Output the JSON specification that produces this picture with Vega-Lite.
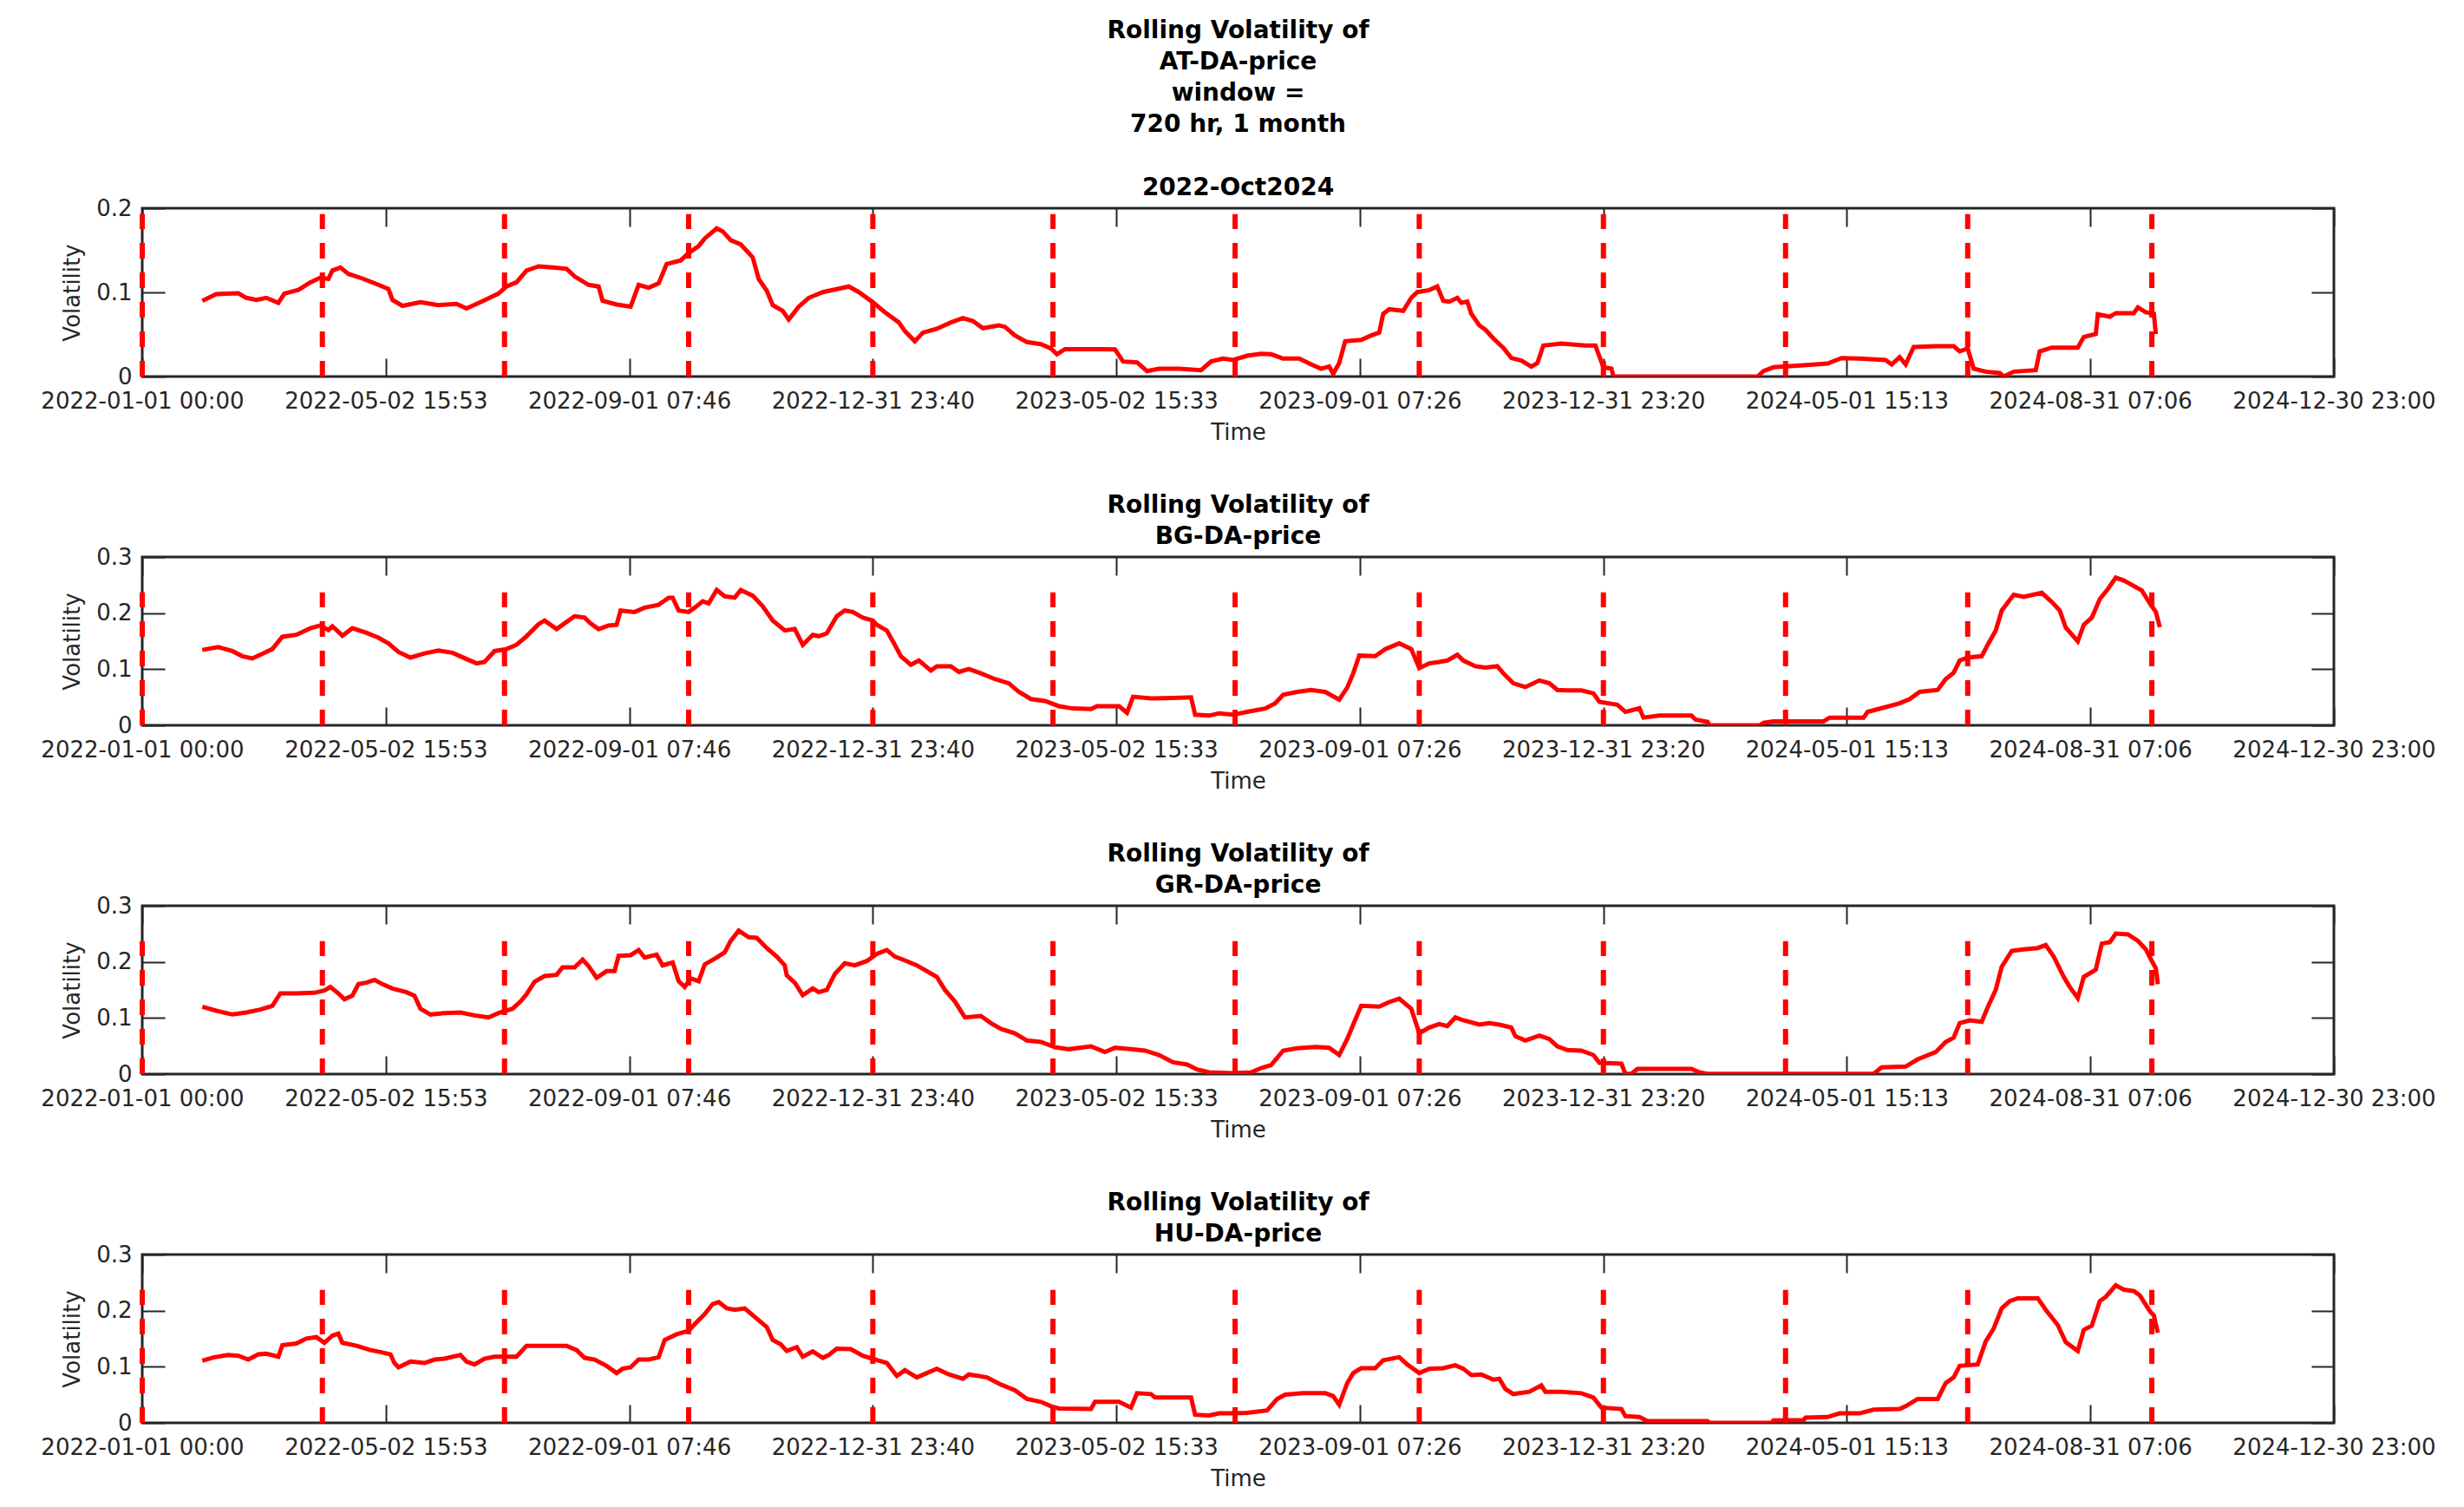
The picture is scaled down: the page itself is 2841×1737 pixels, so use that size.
{
"$schema": "https://vega.github.io/schema/vega-lite/v6.json",
"background": "#ffffff",
"padding": {"left": 45, "top": 20, "right": 5, "bottom": 5},
"datasets": {
"quarters": [{"t":"2022-01-01"},{"t":"2022-04-01"},{"t":"2022-07-01"},{"t":"2022-10-01"},{"t":"2023-01-01"},{"t":"2023-04-01"},{"t":"2023-07-01"},{"t":"2023-10-01"},{"t":"2024-01-01"},{"t":"2024-04-01"},{"t":"2024-07-01"},{"t":"2024-10-01"}],
"AT": [
{"t":"2022-01-31","v":0.090},{"t":"2022-02-07","v":0.098},{"t":"2022-02-18","v":0.099},{"t":"2022-02-22","v":0.0935},{"t":"2022-02-27","v":0.091},{"t":"2022-03-04","v":0.0935},{"t":"2022-03-10","v":0.0876},{"t":"2022-03-13","v":0.0986},{"t":"2022-03-20","v":0.103},{"t":"2022-03-26","v":0.112},{"t":"2022-03-31","v":0.1175},{"t":"2022-04-04","v":0.116},{"t":"2022-04-06","v":0.126},{"t":"2022-04-10","v":0.1295},{"t":"2022-04-14","v":0.122},{"t":"2022-04-21","v":0.1165},{"t":"2022-04-29","v":0.109},{"t":"2022-05-04","v":0.104},{"t":"2022-05-06","v":0.091},{"t":"2022-05-11","v":0.084},{"t":"2022-05-20","v":0.0883},{"t":"2022-05-29","v":0.0849},{"t":"2022-06-07","v":0.0863},{"t":"2022-06-12","v":0.081},{"t":"2022-06-19","v":0.0883},{"t":"2022-06-28","v":0.0986},{"t":"2022-07-02","v":0.107},{"t":"2022-07-07","v":0.112},{"t":"2022-07-12","v":0.126},{"t":"2022-07-18","v":0.131},{"t":"2022-07-25","v":0.1296},{"t":"2022-08-01","v":0.128},{"t":"2022-08-05","v":0.119},{"t":"2022-08-12","v":0.109},{"t":"2022-08-17","v":0.107},{"t":"2022-08-19","v":0.090},{"t":"2022-08-26","v":0.0856},{"t":"2022-09-02","v":0.083},{"t":"2022-09-06","v":0.109},{"t":"2022-09-11","v":0.1055},{"t":"2022-09-16","v":0.1107},{"t":"2022-09-20","v":0.1337},{"t":"2022-09-27","v":0.138},{"t":"2022-10-01","v":0.1467},{"t":"2022-10-06","v":0.155},{"t":"2022-10-09","v":0.164},{"t":"2022-10-15","v":0.176},{"t":"2022-10-18","v":0.1725},{"t":"2022-10-22","v":0.162},{"t":"2022-10-27","v":0.157},{"t":"2022-11-02","v":0.1416},{"t":"2022-11-05","v":0.1158},{"t":"2022-11-09","v":0.102},{"t":"2022-11-12","v":0.0849},{"t":"2022-11-17","v":0.078},{"t":"2022-11-20","v":0.0677},{"t":"2022-11-25","v":0.083},{"t":"2022-11-30","v":0.0935},{"t":"2022-12-07","v":0.1003},{"t":"2022-12-14","v":0.1038},{"t":"2022-12-20","v":0.107},{"t":"2022-12-25","v":0.1003},{"t":"2023-01-01","v":0.0883},{"t":"2023-01-08","v":0.0746},{"t":"2023-01-14","v":0.0643},{"t":"2023-01-17","v":0.054},{"t":"2023-01-22","v":0.0419},{"t":"2023-01-26","v":0.0522},{"t":"2023-02-02","v":0.0567},{"t":"2023-02-09","v":0.0643},{"t":"2023-02-15","v":0.0694},{"t":"2023-02-20","v":0.066},{"t":"2023-02-25","v":0.0574},{"t":"2023-03-05","v":0.0608},{"t":"2023-03-08","v":0.0591},{"t":"2023-03-13","v":0.0488},{"t":"2023-03-19","v":0.0409},{"t":"2023-03-26","v":0.0385},{"t":"2023-03-31","v":0.0333},{"t":"2023-04-03","v":0.0265},{"t":"2023-04-07","v":0.0326},{"t":"2023-04-18","v":0.0326},{"t":"2023-05-02","v":0.0323},{"t":"2023-05-06","v":0.0179},{"t":"2023-05-13","v":0.0168},{"t":"2023-05-18","v":0.0065},{"t":"2023-05-24","v":0.0093},{"t":"2023-06-03","v":0.0093},{"t":"2023-06-14","v":0.0076},{"t":"2023-06-19","v":0.0179},{"t":"2023-06-25","v":0.0213},{"t":"2023-06-30","v":0.0196},{"t":"2023-07-07","v":0.0247},{"t":"2023-07-14","v":0.0271},{"t":"2023-07-19","v":0.0265},{"t":"2023-07-25","v":0.0213},{"t":"2023-08-02","v":0.0213},{"t":"2023-08-08","v":0.0144},{"t":"2023-08-13","v":0.0093},{"t":"2023-08-17","v":0.012},{"t":"2023-08-19","v":0.0031},{"t":"2023-08-22","v":0.016},{"t":"2023-08-25","v":0.042},{"t":"2023-09-02","v":0.0436},{"t":"2023-09-07","v":0.0488},{"t":"2023-09-11","v":0.0522},{"t":"2023-09-13","v":0.0746},{"t":"2023-09-16","v":0.080},{"t":"2023-09-23","v":0.078},{"t":"2023-09-27","v":0.0935},{"t":"2023-09-30","v":0.1003},{"t":"2023-10-06","v":0.1027},{"t":"2023-10-10","v":0.107},{"t":"2023-10-13","v":0.090},{"t":"2023-10-16","v":0.089},{"t":"2023-10-20","v":0.0935},{"t":"2023-10-22","v":0.0876},{"t":"2023-10-25","v":0.089},{"t":"2023-10-27","v":0.0746},{"t":"2023-10-31","v":0.0608},{"t":"2023-11-03","v":0.0557},{"t":"2023-11-07","v":0.0454},{"t":"2023-11-12","v":0.034},{"t":"2023-11-16","v":0.022},{"t":"2023-11-21","v":0.0189},{"t":"2023-11-26","v":0.0117},{"t":"2023-11-29","v":0.016},{"t":"2023-12-02","v":0.0368},{"t":"2023-12-11","v":0.0392},{"t":"2023-12-23","v":0.0368},{"t":"2023-12-28","v":0.0368},{"t":"2024-01-01","v":0.011},{"t":"2024-01-05","v":0.0093},{"t":"2024-01-06","v":0.0},{"t":"2024-03-18","v":0.0},{"t":"2024-03-21","v":0.0065},{"t":"2024-03-26","v":0.011},{"t":"2024-04-10","v":0.0134},{"t":"2024-04-22","v":0.0155},{"t":"2024-04-29","v":0.022},{"t":"2024-05-08","v":0.0213},{"t":"2024-05-21","v":0.0196},{"t":"2024-05-24","v":0.0144},{"t":"2024-05-28","v":0.023},{"t":"2024-05-31","v":0.0144},{"t":"2024-06-04","v":0.0351},{"t":"2024-06-15","v":0.036},{"t":"2024-06-24","v":0.036},{"t":"2024-06-27","v":0.0299},{"t":"2024-07-01","v":0.0333},{"t":"2024-07-04","v":0.0093},{"t":"2024-07-10","v":0.0058},{"t":"2024-07-17","v":0.0041},{"t":"2024-07-19","v":0.0},{"t":"2024-07-24","v":0.0058},{"t":"2024-08-04","v":0.0076},{"t":"2024-08-06","v":0.0299},{"t":"2024-08-12","v":0.0344},{"t":"2024-08-25","v":0.0344},{"t":"2024-08-28","v":0.0471},{"t":"2024-09-03","v":0.0505},{"t":"2024-09-04","v":0.0739},{"t":"2024-09-10","v":0.0711},{"t":"2024-09-13","v":0.0753},{"t":"2024-09-22","v":0.0753},{"t":"2024-09-24","v":0.0821},{"t":"2024-09-28","v":0.0763},{"t":"2024-10-02","v":0.0746},{"t":"2024-10-03","v":0.0505}],
"BG": [
{"t":"2022-01-31","v":0.1343},{"t":"2022-02-08","v":0.1394},{"t":"2022-02-15","v":0.1323},{"t":"2022-02-20","v":0.1232},{"t":"2022-02-25","v":0.1191},{"t":"2022-03-03","v":0.1293},{"t":"2022-03-07","v":0.1359},{"t":"2022-03-12","v":0.1578},{"t":"2022-03-19","v":0.1613},{"t":"2022-03-26","v":0.173},{"t":"2022-03-31","v":0.178},{"t":"2022-04-04","v":0.170},{"t":"2022-04-06","v":0.1766},{"t":"2022-04-11","v":0.1598},{"t":"2022-04-16","v":0.173},{"t":"2022-04-23","v":0.1649},{"t":"2022-04-29","v":0.1562},{"t":"2022-05-04","v":0.146},{"t":"2022-05-09","v":0.1308},{"t":"2022-05-15","v":0.1206},{"t":"2022-05-22","v":0.1282},{"t":"2022-05-29","v":0.1333},{"t":"2022-06-05","v":0.1293},{"t":"2022-06-12","v":0.1181},{"t":"2022-06-17","v":0.1104},{"t":"2022-06-21","v":0.113},{"t":"2022-06-26","v":0.1323},{"t":"2022-07-02","v":0.1359},{"t":"2022-07-07","v":0.1435},{"t":"2022-07-12","v":0.1588},{"t":"2022-07-18","v":0.1802},{"t":"2022-07-21","v":0.1868},{"t":"2022-07-27","v":0.1715},{"t":"2022-08-01","v":0.1842},{"t":"2022-08-05","v":0.1944},{"t":"2022-08-10","v":0.192},{"t":"2022-08-13","v":0.1817},{"t":"2022-08-17","v":0.1715},{"t":"2022-08-22","v":0.178},{"t":"2022-08-26","v":0.179},{"t":"2022-08-28","v":0.2046},{"t":"2022-09-04","v":0.202},{"t":"2022-09-09","v":0.2097},{"t":"2022-09-16","v":0.2148},{"t":"2022-09-21","v":0.2275},{"t":"2022-09-23","v":0.2275},{"t":"2022-09-26","v":0.2046},{"t":"2022-10-01","v":0.202},{"t":"2022-10-04","v":0.2097},{"t":"2022-10-08","v":0.2209},{"t":"2022-10-11","v":0.2173},{"t":"2022-10-15","v":0.2412},{"t":"2022-10-19","v":0.230},{"t":"2022-10-24","v":0.2275},{"t":"2022-10-27","v":0.2412},{"t":"2022-11-02","v":0.231},{"t":"2022-11-07","v":0.2122},{"t":"2022-11-12","v":0.1868},{"t":"2022-11-18","v":0.169},{"t":"2022-11-23","v":0.1715},{"t":"2022-11-27","v":0.1435},{"t":"2022-12-02","v":0.1613},{"t":"2022-12-05","v":0.1588},{"t":"2022-12-09","v":0.1639},{"t":"2022-12-14","v":0.1944},{"t":"2022-12-18","v":0.2046},{"t":"2022-12-22","v":0.202},{"t":"2022-12-27","v":0.192},{"t":"2023-01-01","v":0.1868},{"t":"2023-01-03","v":0.179},{"t":"2023-01-08","v":0.169},{"t":"2023-01-12","v":0.1435},{"t":"2023-01-15","v":0.1232},{"t":"2023-01-20","v":0.1079},{"t":"2023-01-24","v":0.1155},{"t":"2023-01-30","v":0.0977},{"t":"2023-02-02","v":0.1053},{"t":"2023-02-09","v":0.1053},{"t":"2023-02-13","v":0.0952},{"t":"2023-02-18","v":0.1003},{"t":"2023-02-24","v":0.0926},{"t":"2023-03-03","v":0.0824},{"t":"2023-03-10","v":0.0748},{"t":"2023-03-15","v":0.0595},{"t":"2023-03-21","v":0.0468},{"t":"2023-03-28","v":0.0433},{"t":"2023-04-04","v":0.0341},{"t":"2023-04-11","v":0.030},{"t":"2023-04-20","v":0.029},{"t":"2023-04-23","v":0.0341},{"t":"2023-05-04","v":0.0341},{"t":"2023-05-08","v":0.0224},{"t":"2023-05-11","v":0.0509},{"t":"2023-05-20","v":0.0478},{"t":"2023-05-31","v":0.0489},{"t":"2023-06-09","v":0.0499},{"t":"2023-06-11","v":0.0188},{"t":"2023-06-18","v":0.0173},{"t":"2023-06-23","v":0.0214},{"t":"2023-06-30","v":0.0188},{"t":"2023-07-07","v":0.0239},{"t":"2023-07-16","v":0.030},{"t":"2023-07-21","v":0.0392},{"t":"2023-07-25","v":0.0545},{"t":"2023-08-01","v":0.0595},{"t":"2023-08-08","v":0.0631},{"t":"2023-08-15","v":0.0595},{"t":"2023-08-22","v":0.0458},{"t":"2023-08-26","v":0.0672},{"t":"2023-08-29","v":0.0926},{"t":"2023-09-01","v":0.1242},{"t":"2023-09-09","v":0.1232},{"t":"2023-09-14","v":0.1359},{"t":"2023-09-21","v":0.146},{"t":"2023-09-27","v":0.1359},{"t":"2023-10-01","v":0.1018},{"t":"2023-10-06","v":0.1104},{"t":"2023-10-11","v":0.113},{"t":"2023-10-15","v":0.1155},{"t":"2023-10-20","v":0.1257},{"t":"2023-10-23","v":0.1155},{"t":"2023-10-29","v":0.1053},{"t":"2023-11-03","v":0.1028},{"t":"2023-11-09","v":0.1053},{"t":"2023-11-12","v":0.0926},{"t":"2023-11-17","v":0.0748},{"t":"2023-11-23","v":0.0682},{"t":"2023-11-30","v":0.0799},{"t":"2023-12-05","v":0.0748},{"t":"2023-12-09","v":0.0631},{"t":"2023-12-14","v":0.0621},{"t":"2023-12-21","v":0.0621},{"t":"2023-12-27","v":0.057},{"t":"2023-12-30","v":0.0417},{"t":"2024-01-08","v":0.0366},{"t":"2024-01-12","v":0.0239},{"t":"2024-01-19","v":0.0305},{"t":"2024-01-21","v":0.0137},{"t":"2024-01-29","v":0.0173},{"t":"2024-02-14","v":0.0173},{"t":"2024-02-16","v":0.0102},{"t":"2024-02-22","v":0.0061},{"t":"2024-02-23","v":0.0},{"t":"2024-03-19","v":0.0},{"t":"2024-03-21","v":0.0046},{"t":"2024-03-26","v":0.0071},{"t":"2024-04-20","v":0.0071},{"t":"2024-04-23","v":0.0137},{"t":"2024-05-10","v":0.0137},{"t":"2024-05-12","v":0.0239},{"t":"2024-05-19","v":0.0305},{"t":"2024-05-28","v":0.0392},{"t":"2024-06-02","v":0.0468},{"t":"2024-06-07","v":0.0595},{"t":"2024-06-16","v":0.0631},{"t":"2024-06-20","v":0.0824},{"t":"2024-06-24","v":0.0936},{"t":"2024-06-27","v":0.1155},{"t":"2024-07-01","v":0.1206},{"t":"2024-07-08","v":0.1232},{"t":"2024-07-11","v":0.1435},{"t":"2024-07-15","v":0.169},{"t":"2024-07-18","v":0.2046},{"t":"2024-07-24","v":0.2326},{"t":"2024-07-29","v":0.229},{"t":"2024-08-07","v":0.2361},{"t":"2024-08-12","v":0.2198},{"t":"2024-08-16","v":0.2046},{"t":"2024-08-19","v":0.174},{"t":"2024-08-25","v":0.1496},{"t":"2024-08-28","v":0.1791},{"t":"2024-09-01","v":0.1919},{"t":"2024-09-05","v":0.225},{"t":"2024-09-09","v":0.2427},{"t":"2024-09-13","v":0.2631},{"t":"2024-09-17","v":0.258},{"t":"2024-09-21","v":0.2504},{"t":"2024-09-26","v":0.2402},{"t":"2024-09-30","v":0.2173},{"t":"2024-10-03","v":0.202},{"t":"2024-10-05","v":0.175}],
"GR": [
{"t":"2022-01-31","v":0.1201},{"t":"2022-02-07","v":0.1129},{"t":"2022-02-15","v":0.1062},{"t":"2022-02-22","v":0.1098},{"t":"2022-03-01","v":0.1149},{"t":"2022-03-07","v":0.1216},{"t":"2022-03-11","v":0.1438},{"t":"2022-03-19","v":0.1438},{"t":"2022-03-28","v":0.1448},{"t":"2022-04-02","v":0.149},{"t":"2022-04-05","v":0.1552},{"t":"2022-04-09","v":0.1438},{"t":"2022-04-12","v":0.1335},{"t":"2022-04-16","v":0.1397},{"t":"2022-04-19","v":0.1603},{"t":"2022-04-23","v":0.1629},{"t":"2022-04-27","v":0.168},{"t":"2022-05-01","v":0.1603},{"t":"2022-05-06","v":0.1526},{"t":"2022-05-13","v":0.1459},{"t":"2022-05-17","v":0.1397},{"t":"2022-05-20","v":0.1165},{"t":"2022-05-25","v":0.1062},{"t":"2022-06-01","v":0.1088},{"t":"2022-06-09","v":0.1098},{"t":"2022-06-16","v":0.1046},{"t":"2022-06-23","v":0.101},{"t":"2022-06-28","v":0.1088},{"t":"2022-07-05","v":0.1165},{"t":"2022-07-09","v":0.1294},{"t":"2022-07-12","v":0.1423},{"t":"2022-07-16","v":0.1644},{"t":"2022-07-21","v":0.1747},{"t":"2022-07-27","v":0.1768},{"t":"2022-07-30","v":0.1902},{"t":"2022-08-05","v":0.1902},{"t":"2022-08-09","v":0.2041},{"t":"2022-08-12","v":0.1923},{"t":"2022-08-16","v":0.1716},{"t":"2022-08-21","v":0.1835},{"t":"2022-08-25","v":0.1835},{"t":"2022-08-27","v":0.2108},{"t":"2022-09-02","v":0.2119},{"t":"2022-09-06","v":0.2211},{"t":"2022-09-09","v":0.2077},{"t":"2022-09-15","v":0.2129},{"t":"2022-09-18","v":0.1938},{"t":"2022-09-23","v":0.199},{"t":"2022-09-26","v":0.1655},{"t":"2022-09-29","v":0.1552},{"t":"2022-10-02","v":0.1706},{"t":"2022-10-06","v":0.1655},{"t":"2022-10-09","v":0.1954},{"t":"2022-10-15","v":0.2077},{"t":"2022-10-19","v":0.217},{"t":"2022-10-22","v":0.2376},{"t":"2022-10-26","v":0.2557},{"t":"2022-10-31","v":0.2438},{"t":"2022-11-04","v":0.2428},{"t":"2022-11-09","v":0.2247},{"t":"2022-11-14","v":0.2093},{"t":"2022-11-18","v":0.1938},{"t":"2022-11-19","v":0.1758},{"t":"2022-11-23","v":0.1629},{"t":"2022-11-27","v":0.1407},{"t":"2022-12-02","v":0.1526},{"t":"2022-12-05","v":0.1459},{"t":"2022-12-09","v":0.15},{"t":"2022-12-13","v":0.1784},{"t":"2022-12-18","v":0.1974},{"t":"2022-12-23","v":0.1938},{"t":"2022-12-29","v":0.2015},{"t":"2023-01-03","v":0.2144},{"t":"2023-01-08","v":0.2211},{"t":"2023-01-12","v":0.2093},{"t":"2023-01-17","v":0.2026},{"t":"2023-01-23","v":0.1938},{"t":"2023-01-28","v":0.1835},{"t":"2023-02-02","v":0.1732},{"t":"2023-02-06","v":0.15},{"t":"2023-02-11","v":0.1294},{"t":"2023-02-16","v":0.101},{"t":"2023-02-24","v":0.1036},{"t":"2023-03-01","v":0.0907},{"t":"2023-03-06","v":0.0804},{"t":"2023-03-13","v":0.0727},{"t":"2023-03-19","v":0.0598},{"t":"2023-03-26","v":0.0572},{"t":"2023-04-02","v":0.0479},{"t":"2023-04-09","v":0.0443},{"t":"2023-04-20","v":0.0495},{"t":"2023-04-27","v":0.0392},{"t":"2023-05-02","v":0.0469},{"t":"2023-05-10","v":0.0443},{"t":"2023-05-17","v":0.0418},{"t":"2023-05-24","v":0.034},{"t":"2023-05-31","v":0.0211},{"t":"2023-06-07","v":0.017},{"t":"2023-06-12","v":0.0082},{"t":"2023-06-18","v":0.0031},{"t":"2023-06-30","v":0.0015},{"t":"2023-07-09","v":0.0031},{"t":"2023-07-14","v":0.0108},{"t":"2023-07-19","v":0.016},{"t":"2023-07-25","v":0.0418},{"t":"2023-08-01","v":0.0459},{"t":"2023-08-10","v":0.0485},{"t":"2023-08-17","v":0.0469},{"t":"2023-08-22","v":0.034},{"t":"2023-08-26","v":0.0624},{"t":"2023-08-29","v":0.0881},{"t":"2023-09-02","v":0.1216},{"t":"2023-09-11","v":0.1201},{"t":"2023-09-16","v":0.1284},{"t":"2023-09-21","v":0.1345},{"t":"2023-09-27","v":0.1165},{"t":"2023-10-01","v":0.0727},{"t":"2023-10-06","v":0.083},{"t":"2023-10-11","v":0.0892},{"t":"2023-10-15","v":0.0856},{"t":"2023-10-19","v":0.101},{"t":"2023-10-23","v":0.0959},{"t":"2023-10-31","v":0.0881},{"t":"2023-11-05","v":0.0907},{"t":"2023-11-10","v":0.0881},{"t":"2023-11-16","v":0.083},{"t":"2023-11-18","v":0.0675},{"t":"2023-11-23","v":0.0598},{"t":"2023-11-30","v":0.0686},{"t":"2023-12-05","v":0.0624},{"t":"2023-12-09","v":0.0495},{"t":"2023-12-14","v":0.0428},{"t":"2023-12-21","v":0.0418},{"t":"2023-12-27","v":0.034},{"t":"2023-12-30","v":0.0201},{"t":"2024-01-10","v":0.0186},{"t":"2024-01-12","v":0.0005},{"t":"2024-01-15","v":0.0005},{"t":"2024-01-18","v":0.0093},{"t":"2024-02-14","v":0.0093},{"t":"2024-02-18","v":0.0031},{"t":"2024-02-22","v":0.0005},{"t":"2024-05-15","v":0.0005},{"t":"2024-05-19","v":0.0119},{"t":"2024-05-31","v":0.0134},{"t":"2024-06-06","v":0.0263},{"t":"2024-06-15","v":0.0392},{"t":"2024-06-20","v":0.0572},{"t":"2024-06-24","v":0.065},{"t":"2024-06-27","v":0.0907},{"t":"2024-07-02","v":0.0959},{"t":"2024-07-08","v":0.0933},{"t":"2024-07-11","v":0.1191},{"t":"2024-07-15","v":0.15},{"t":"2024-07-18","v":0.1912},{"t":"2024-07-23","v":0.2196},{"t":"2024-07-29","v":0.2222},{"t":"2024-08-05","v":0.2247},{"t":"2024-08-09","v":0.2299},{"t":"2024-08-13","v":0.2093},{"t":"2024-08-18","v":0.1732},{"t":"2024-08-21","v":0.1552},{"t":"2024-08-25","v":0.1356},{"t":"2024-08-28","v":0.1732},{"t":"2024-09-03","v":0.1861},{"t":"2024-09-06","v":0.2325},{"t":"2024-09-10","v":0.2351},{"t":"2024-09-13","v":0.2505},{"t":"2024-09-19","v":0.249},{"t":"2024-09-24","v":0.2376},{"t":"2024-09-28","v":0.2222},{"t":"2024-10-01","v":0.2015},{"t":"2024-10-03","v":0.1887},{"t":"2024-10-04","v":0.1603}],
"HU": [
{"t":"2022-01-31","v":0.1108},{"t":"2022-02-06","v":0.1169},{"t":"2022-02-13","v":0.121},{"t":"2022-02-18","v":0.1195},{"t":"2022-02-23","v":0.1128},{"t":"2022-02-28","v":0.1221},{"t":"2022-03-04","v":0.1231},{"t":"2022-03-10","v":0.1179},{"t":"2022-03-12","v":0.1385},{"t":"2022-03-19","v":0.1415},{"t":"2022-03-24","v":0.1503},{"t":"2022-03-29","v":0.1528},{"t":"2022-04-02","v":0.1426},{"t":"2022-04-06","v":0.1554},{"t":"2022-04-09","v":0.159},{"t":"2022-04-11","v":0.1426},{"t":"2022-04-18","v":0.1374},{"t":"2022-04-25","v":0.1297},{"t":"2022-04-30","v":0.1262},{"t":"2022-05-05","v":0.1221},{"t":"2022-05-07","v":0.1067},{"t":"2022-05-09","v":0.099},{"t":"2022-05-15","v":0.1092},{"t":"2022-05-22","v":0.1067},{"t":"2022-05-27","v":0.1128},{"t":"2022-06-01","v":0.1144},{"t":"2022-06-09","v":0.121},{"t":"2022-06-12","v":0.1092},{"t":"2022-06-16","v":0.1041},{"t":"2022-06-21","v":0.1144},{"t":"2022-06-26","v":0.1179},{"t":"2022-07-07","v":0.1179},{"t":"2022-07-12","v":0.1374},{"t":"2022-07-21","v":0.1374},{"t":"2022-08-01","v":0.1374},{"t":"2022-08-06","v":0.1297},{"t":"2022-08-10","v":0.1159},{"t":"2022-08-15","v":0.1128},{"t":"2022-08-21","v":0.1015},{"t":"2022-08-26","v":0.0887},{"t":"2022-08-29","v":0.0964},{"t":"2022-09-02","v":0.099},{"t":"2022-09-06","v":0.1128},{"t":"2022-09-11","v":0.1128},{"t":"2022-09-16","v":0.1169},{"t":"2022-09-19","v":0.1477},{"t":"2022-09-25","v":0.1579},{"t":"2022-10-01","v":0.1641},{"t":"2022-10-04","v":0.1759},{"t":"2022-10-09","v":0.1938},{"t":"2022-10-13","v":0.2118},{"t":"2022-10-16","v":0.2154},{"t":"2022-10-20","v":0.2041},{"t":"2022-10-24","v":0.2015},{"t":"2022-10-29","v":0.2041},{"t":"2022-11-03","v":0.1887},{"t":"2022-11-09","v":0.1708},{"t":"2022-11-12","v":0.1477},{"t":"2022-11-16","v":0.14},{"t":"2022-11-19","v":0.1282},{"t":"2022-11-24","v":0.1349},{"t":"2022-11-27","v":0.1179},{"t":"2022-12-02","v":0.1272},{"t":"2022-12-07","v":0.1159},{"t":"2022-12-10","v":0.121},{"t":"2022-12-14","v":0.1323},{"t":"2022-12-21","v":0.1313},{"t":"2022-12-27","v":0.1195},{"t":"2023-01-03","v":0.1118},{"t":"2023-01-08","v":0.1067},{"t":"2023-01-13","v":0.0836},{"t":"2023-01-17","v":0.0938},{"t":"2023-01-23","v":0.081},{"t":"2023-01-28","v":0.0887},{"t":"2023-02-02","v":0.0964},{"t":"2023-02-08","v":0.0862},{"t":"2023-02-15","v":0.0785},{"t":"2023-02-18","v":0.0862},{"t":"2023-02-27","v":0.081},{"t":"2023-03-06","v":0.0682},{"t":"2023-03-13","v":0.0579},{"t":"2023-03-19","v":0.0426},{"t":"2023-03-26","v":0.0374},{"t":"2023-03-31","v":0.0297},{"t":"2023-04-04","v":0.0256},{"t":"2023-04-20","v":0.0246},{"t":"2023-04-22","v":0.0374},{"t":"2023-05-04","v":0.0374},{"t":"2023-05-10","v":0.0272},{"t":"2023-05-13","v":0.0528},{"t":"2023-05-20","v":0.0513},{"t":"2023-05-22","v":0.0451},{"t":"2023-06-09","v":0.0451},{"t":"2023-06-11","v":0.0144},{"t":"2023-06-18","v":0.0133},{"t":"2023-06-23","v":0.0169},{"t":"2023-06-30","v":0.0169},{"t":"2023-07-07","v":0.0179},{"t":"2023-07-17","v":0.0221},{"t":"2023-07-22","v":0.0426},{"t":"2023-07-26","v":0.0503},{"t":"2023-08-04","v":0.0528},{"t":"2023-08-15","v":0.0528},{"t":"2023-08-19","v":0.0477},{"t":"2023-08-22","v":0.0323},{"t":"2023-08-26","v":0.0708},{"t":"2023-08-29","v":0.0887},{"t":"2023-09-02","v":0.0974},{"t":"2023-09-09","v":0.0974},{"t":"2023-09-13","v":0.1118},{"t":"2023-09-21","v":0.1169},{"t":"2023-09-25","v":0.1041},{"t":"2023-10-01","v":0.0887},{"t":"2023-10-06","v":0.0964},{"t":"2023-10-13","v":0.0974},{"t":"2023-10-19","v":0.1026},{"t":"2023-10-23","v":0.0964},{"t":"2023-10-27","v":0.0851},{"t":"2023-11-01","v":0.0862},{"t":"2023-11-07","v":0.0769},{"t":"2023-11-10","v":0.0785},{"t":"2023-11-13","v":0.0605},{"t":"2023-11-17","v":0.0513},{"t":"2023-11-25","v":0.0554},{"t":"2023-12-01","v":0.0667},{"t":"2023-12-03","v":0.0554},{"t":"2023-12-11","v":0.0554},{"t":"2023-12-21","v":0.0528},{"t":"2023-12-27","v":0.0451},{"t":"2023-12-31","v":0.0272},{"t":"2024-01-10","v":0.0246},{"t":"2024-01-12","v":0.0118},{"t":"2024-01-19","v":0.0103},{"t":"2024-01-23","v":0.0031},{"t":"2024-02-22","v":0.0031},{"t":"2024-02-23","v":0.0},{"t":"2024-03-25","v":0.0},{"t":"2024-03-26","v":0.0041},{"t":"2024-04-10","v":0.0051},{"t":"2024-04-11","v":0.0092},{"t":"2024-04-22","v":0.0103},{"t":"2024-04-28","v":0.0169},{"t":"2024-05-08","v":0.0169},{"t":"2024-05-15","v":0.0236},{"t":"2024-05-28","v":0.0246},{"t":"2024-05-31","v":0.0297},{"t":"2024-06-06","v":0.0426},{"t":"2024-06-16","v":0.0426},{"t":"2024-06-20","v":0.0708},{"t":"2024-06-24","v":0.081},{"t":"2024-06-27","v":0.1015},{"t":"2024-07-06","v":0.1041},{"t":"2024-07-10","v":0.1451},{"t":"2024-07-14","v":0.1682},{"t":"2024-07-18","v":0.2041},{"t":"2024-07-22","v":0.2169},{"t":"2024-07-26","v":0.2221},{"t":"2024-08-05","v":0.2221},{"t":"2024-08-09","v":0.2015},{"t":"2024-08-15","v":0.1744},{"t":"2024-08-19","v":0.1436},{"t":"2024-08-25","v":0.1282},{"t":"2024-08-28","v":0.1656},{"t":"2024-09-01","v":0.1733},{"t":"2024-09-05","v":0.2169},{"t":"2024-09-08","v":0.2246},{"t":"2024-09-13","v":0.2451},{"t":"2024-09-17","v":0.2374},{"t":"2024-09-22","v":0.2349},{"t":"2024-09-25","v":0.2272},{"t":"2024-09-30","v":0.199},{"t":"2024-10-02","v":0.1913},{"t":"2024-10-04","v":0.1605}]
},
"vconcat": [
{
"width": 2527, "height": 194,
"title": {"text": ["Rolling Volatility of", "AT-DA-price", "window =", "720 hr, 1 month"], "subtitle": "2022-Oct2024", "subtitlePadding": 45},
"layer": [
{"data": {"name": "AT"}, "mark": {"type": "line", "color": "#ff0000", "strokeWidth": 5, "clip": true},
"encoding": {
"x": {"field": "t", "type": "temporal", "scale": {"type": "utc", "domain": [{"year":2022,"month":1,"date":1,"utc":true},{"year":2024,"month":12,"date":30,"hours":23,"utc":true}]},
"axis": {"orient": "bottom", "title": "Time", "labelExpr": "utcFormat(datum.value, '%Y-%m-%d %H:%M')", "tickSize": -21, "labelPadding": 36, "titlePadding": 10,
"values": [{"year":2022,"month":1,"date":1,"hours":0,"minutes":0,"utc":true},{"year":2022,"month":5,"date":2,"hours":15,"minutes":53,"utc":true},{"year":2022,"month":9,"date":1,"hours":7,"minutes":46,"utc":true},{"year":2022,"month":12,"date":31,"hours":23,"minutes":40,"utc":true},{"year":2023,"month":5,"date":2,"hours":15,"minutes":33,"utc":true},{"year":2023,"month":9,"date":1,"hours":7,"minutes":26,"utc":true},{"year":2023,"month":12,"date":31,"hours":23,"minutes":20,"utc":true},{"year":2024,"month":5,"date":1,"hours":15,"minutes":13,"utc":true},{"year":2024,"month":8,"date":31,"hours":7,"minutes":6,"utc":true},{"year":2024,"month":12,"date":30,"hours":23,"minutes":0,"utc":true}]}},
"y": {"field": "v", "type": "quantitative", "scale": {"domain": [0, 0.2], "nice": false}, "axis": {"orient": "left", "title": "Volatility", "values": [0, 0.1, 0.2], "format": "~g", "tickSize": -26, "labelPadding": 38, "titlePadding": 14}}
}},
{"data": {"name": "quarters"}, "mark": {"type": "rule", "color": "#ff0000", "strokeWidth": 6, "strokeDash": [18, 16]},
"encoding": {
"x": {"field": "t", "type": "temporal", "scale": {"type": "utc", "domain": [{"year":2022,"month":1,"date":1,"utc":true},{"year":2024,"month":12,"date":30,"hours":23,"utc":true}]},
"axis": {"orient": "top", "labels": false, "title": null, "tickSize": -21,
"values": [{"year":2022,"month":1,"date":1,"hours":0,"minutes":0,"utc":true},{"year":2022,"month":5,"date":2,"hours":15,"minutes":53,"utc":true},{"year":2022,"month":9,"date":1,"hours":7,"minutes":46,"utc":true},{"year":2022,"month":12,"date":31,"hours":23,"minutes":40,"utc":true},{"year":2023,"month":5,"date":2,"hours":15,"minutes":33,"utc":true},{"year":2023,"month":9,"date":1,"hours":7,"minutes":26,"utc":true},{"year":2023,"month":12,"date":31,"hours":23,"minutes":20,"utc":true},{"year":2024,"month":5,"date":1,"hours":15,"minutes":13,"utc":true},{"year":2024,"month":8,"date":31,"hours":7,"minutes":6,"utc":true},{"year":2024,"month":12,"date":30,"hours":23,"minutes":0,"utc":true}]}},
"y": {"datum": 0, "type": "quantitative", "scale": {"domain": [0, 0.2], "nice": false}, "axis": {"orient": "right", "labels": false, "title": null, "values": [0, 0.1, 0.2], "tickSize": -26}},
"y2": {"datum": 0.193}
}}
],
"resolve": {"axis": {"x": "independent", "y": "independent"}}
},
{
"width": 2527, "height": 194,
"title": {"text": ["Rolling Volatility of", "BG-DA-price"]},
"layer": [
{"data": {"name": "BG"}, "mark": {"type": "line", "color": "#ff0000", "strokeWidth": 5, "clip": true},
"encoding": {
"x": {"field": "t", "type": "temporal", "scale": {"type": "utc", "domain": [{"year":2022,"month":1,"date":1,"utc":true},{"year":2024,"month":12,"date":30,"hours":23,"utc":true}]},
"axis": {"orient": "bottom", "title": "Time", "labelExpr": "utcFormat(datum.value, '%Y-%m-%d %H:%M')", "tickSize": -21, "labelPadding": 36, "titlePadding": 10,
"values": [{"year":2022,"month":1,"date":1,"hours":0,"minutes":0,"utc":true},{"year":2022,"month":5,"date":2,"hours":15,"minutes":53,"utc":true},{"year":2022,"month":9,"date":1,"hours":7,"minutes":46,"utc":true},{"year":2022,"month":12,"date":31,"hours":23,"minutes":40,"utc":true},{"year":2023,"month":5,"date":2,"hours":15,"minutes":33,"utc":true},{"year":2023,"month":9,"date":1,"hours":7,"minutes":26,"utc":true},{"year":2023,"month":12,"date":31,"hours":23,"minutes":20,"utc":true},{"year":2024,"month":5,"date":1,"hours":15,"minutes":13,"utc":true},{"year":2024,"month":8,"date":31,"hours":7,"minutes":6,"utc":true},{"year":2024,"month":12,"date":30,"hours":23,"minutes":0,"utc":true}]}},
"y": {"field": "v", "type": "quantitative", "scale": {"domain": [0, 0.3], "nice": false}, "axis": {"orient": "left", "title": "Volatility", "values": [0, 0.1, 0.2, 0.3], "format": "~g", "tickSize": -26, "labelPadding": 38, "titlePadding": 14}}
}},
{"data": {"name": "quarters"}, "mark": {"type": "rule", "color": "#ff0000", "strokeWidth": 6, "strokeDash": [18, 16]},
"encoding": {
"x": {"field": "t", "type": "temporal", "scale": {"type": "utc", "domain": [{"year":2022,"month":1,"date":1,"utc":true},{"year":2024,"month":12,"date":30,"hours":23,"utc":true}]},
"axis": {"orient": "top", "labels": false, "title": null, "tickSize": -21,
"values": [{"year":2022,"month":1,"date":1,"hours":0,"minutes":0,"utc":true},{"year":2022,"month":5,"date":2,"hours":15,"minutes":53,"utc":true},{"year":2022,"month":9,"date":1,"hours":7,"minutes":46,"utc":true},{"year":2022,"month":12,"date":31,"hours":23,"minutes":40,"utc":true},{"year":2023,"month":5,"date":2,"hours":15,"minutes":33,"utc":true},{"year":2023,"month":9,"date":1,"hours":7,"minutes":26,"utc":true},{"year":2023,"month":12,"date":31,"hours":23,"minutes":20,"utc":true},{"year":2024,"month":5,"date":1,"hours":15,"minutes":13,"utc":true},{"year":2024,"month":8,"date":31,"hours":7,"minutes":6,"utc":true},{"year":2024,"month":12,"date":30,"hours":23,"minutes":0,"utc":true}]}},
"y": {"datum": 0, "type": "quantitative", "scale": {"domain": [0, 0.3], "nice": false}, "axis": {"orient": "right", "labels": false, "title": null, "values": [0, 0.1, 0.2, 0.3], "tickSize": -26}},
"y2": {"datum": 0.237}
}}
],
"resolve": {"axis": {"x": "independent", "y": "independent"}}
},
{
"width": 2527, "height": 194,
"title": {"text": ["Rolling Volatility of", "GR-DA-price"]},
"layer": [
{"data": {"name": "GR"}, "mark": {"type": "line", "color": "#ff0000", "strokeWidth": 5, "clip": true},
"encoding": {
"x": {"field": "t", "type": "temporal", "scale": {"type": "utc", "domain": [{"year":2022,"month":1,"date":1,"utc":true},{"year":2024,"month":12,"date":30,"hours":23,"utc":true}]},
"axis": {"orient": "bottom", "title": "Time", "labelExpr": "utcFormat(datum.value, '%Y-%m-%d %H:%M')", "tickSize": -21, "labelPadding": 36, "titlePadding": 10,
"values": [{"year":2022,"month":1,"date":1,"hours":0,"minutes":0,"utc":true},{"year":2022,"month":5,"date":2,"hours":15,"minutes":53,"utc":true},{"year":2022,"month":9,"date":1,"hours":7,"minutes":46,"utc":true},{"year":2022,"month":12,"date":31,"hours":23,"minutes":40,"utc":true},{"year":2023,"month":5,"date":2,"hours":15,"minutes":33,"utc":true},{"year":2023,"month":9,"date":1,"hours":7,"minutes":26,"utc":true},{"year":2023,"month":12,"date":31,"hours":23,"minutes":20,"utc":true},{"year":2024,"month":5,"date":1,"hours":15,"minutes":13,"utc":true},{"year":2024,"month":8,"date":31,"hours":7,"minutes":6,"utc":true},{"year":2024,"month":12,"date":30,"hours":23,"minutes":0,"utc":true}]}},
"y": {"field": "v", "type": "quantitative", "scale": {"domain": [0, 0.3], "nice": false}, "axis": {"orient": "left", "title": "Volatility", "values": [0, 0.1, 0.2, 0.3], "format": "~g", "tickSize": -26, "labelPadding": 38, "titlePadding": 14}}
}},
{"data": {"name": "quarters"}, "mark": {"type": "rule", "color": "#ff0000", "strokeWidth": 6, "strokeDash": [18, 16]},
"encoding": {
"x": {"field": "t", "type": "temporal", "scale": {"type": "utc", "domain": [{"year":2022,"month":1,"date":1,"utc":true},{"year":2024,"month":12,"date":30,"hours":23,"utc":true}]},
"axis": {"orient": "top", "labels": false, "title": null, "tickSize": -21,
"values": [{"year":2022,"month":1,"date":1,"hours":0,"minutes":0,"utc":true},{"year":2022,"month":5,"date":2,"hours":15,"minutes":53,"utc":true},{"year":2022,"month":9,"date":1,"hours":7,"minutes":46,"utc":true},{"year":2022,"month":12,"date":31,"hours":23,"minutes":40,"utc":true},{"year":2023,"month":5,"date":2,"hours":15,"minutes":33,"utc":true},{"year":2023,"month":9,"date":1,"hours":7,"minutes":26,"utc":true},{"year":2023,"month":12,"date":31,"hours":23,"minutes":20,"utc":true},{"year":2024,"month":5,"date":1,"hours":15,"minutes":13,"utc":true},{"year":2024,"month":8,"date":31,"hours":7,"minutes":6,"utc":true},{"year":2024,"month":12,"date":30,"hours":23,"minutes":0,"utc":true}]}},
"y": {"datum": 0, "type": "quantitative", "scale": {"domain": [0, 0.3], "nice": false}, "axis": {"orient": "right", "labels": false, "title": null, "values": [0, 0.1, 0.2, 0.3], "tickSize": -26}},
"y2": {"datum": 0.237}
}}
],
"resolve": {"axis": {"x": "independent", "y": "independent"}}
},
{
"width": 2527, "height": 194,
"title": {"text": ["Rolling Volatility of", "HU-DA-price"]},
"layer": [
{"data": {"name": "HU"}, "mark": {"type": "line", "color": "#ff0000", "strokeWidth": 5, "clip": true},
"encoding": {
"x": {"field": "t", "type": "temporal", "scale": {"type": "utc", "domain": [{"year":2022,"month":1,"date":1,"utc":true},{"year":2024,"month":12,"date":30,"hours":23,"utc":true}]},
"axis": {"orient": "bottom", "title": "Time", "labelExpr": "utcFormat(datum.value, '%Y-%m-%d %H:%M')", "tickSize": -21, "labelPadding": 36, "titlePadding": 10,
"values": [{"year":2022,"month":1,"date":1,"hours":0,"minutes":0,"utc":true},{"year":2022,"month":5,"date":2,"hours":15,"minutes":53,"utc":true},{"year":2022,"month":9,"date":1,"hours":7,"minutes":46,"utc":true},{"year":2022,"month":12,"date":31,"hours":23,"minutes":40,"utc":true},{"year":2023,"month":5,"date":2,"hours":15,"minutes":33,"utc":true},{"year":2023,"month":9,"date":1,"hours":7,"minutes":26,"utc":true},{"year":2023,"month":12,"date":31,"hours":23,"minutes":20,"utc":true},{"year":2024,"month":5,"date":1,"hours":15,"minutes":13,"utc":true},{"year":2024,"month":8,"date":31,"hours":7,"minutes":6,"utc":true},{"year":2024,"month":12,"date":30,"hours":23,"minutes":0,"utc":true}]}},
"y": {"field": "v", "type": "quantitative", "scale": {"domain": [0, 0.3], "nice": false}, "axis": {"orient": "left", "title": "Volatility", "values": [0, 0.1, 0.2, 0.3], "format": "~g", "tickSize": -26, "labelPadding": 38, "titlePadding": 14}}
}},
{"data": {"name": "quarters"}, "mark": {"type": "rule", "color": "#ff0000", "strokeWidth": 6, "strokeDash": [18, 16]},
"encoding": {
"x": {"field": "t", "type": "temporal", "scale": {"type": "utc", "domain": [{"year":2022,"month":1,"date":1,"utc":true},{"year":2024,"month":12,"date":30,"hours":23,"utc":true}]},
"axis": {"orient": "top", "labels": false, "title": null, "tickSize": -21,
"values": [{"year":2022,"month":1,"date":1,"hours":0,"minutes":0,"utc":true},{"year":2022,"month":5,"date":2,"hours":15,"minutes":53,"utc":true},{"year":2022,"month":9,"date":1,"hours":7,"minutes":46,"utc":true},{"year":2022,"month":12,"date":31,"hours":23,"minutes":40,"utc":true},{"year":2023,"month":5,"date":2,"hours":15,"minutes":33,"utc":true},{"year":2023,"month":9,"date":1,"hours":7,"minutes":26,"utc":true},{"year":2023,"month":12,"date":31,"hours":23,"minutes":20,"utc":true},{"year":2024,"month":5,"date":1,"hours":15,"minutes":13,"utc":true},{"year":2024,"month":8,"date":31,"hours":7,"minutes":6,"utc":true},{"year":2024,"month":12,"date":30,"hours":23,"minutes":0,"utc":true}]}},
"y": {"datum": 0, "type": "quantitative", "scale": {"domain": [0, 0.3], "nice": false}, "axis": {"orient": "right", "labels": false, "title": null, "values": [0, 0.1, 0.2, 0.3], "tickSize": -26}},
"y2": {"datum": 0.237}
}}
],
"resolve": {"axis": {"x": "independent", "y": "independent"}}
}
],
"config": {
"view": {"stroke": "#262626", "strokeWidth": 3},
"axis": {"labelFont": "DejaVu Sans", "labelFontSize": 26, "labelColor": "#262626", "labelLimit": 0, "titleFont": "DejaVu Sans", "titleFontSize": 26, "titleFontWeight": "normal", "titleColor": "#262626", "tickColor": "#262626", "tickWidth": 2, "domain": false, "grid": false, "labelFlush": false, "labelOverlap": false},
"title": {"font": "DejaVu Sans", "fontSize": 28, "fontWeight": "bold", "color": "#000000", "lineHeight": 36, "anchor": "middle", "frame": "group", "offset": -4, "baseline": "alphabetic", "subtitleFont": "DejaVu Sans", "subtitleFontSize": 28, "subtitleFontWeight": "bold", "subtitleColor": "#000000", "subtitleLineHeight": 36},
"concat": {"spacing": 54}
}
}
